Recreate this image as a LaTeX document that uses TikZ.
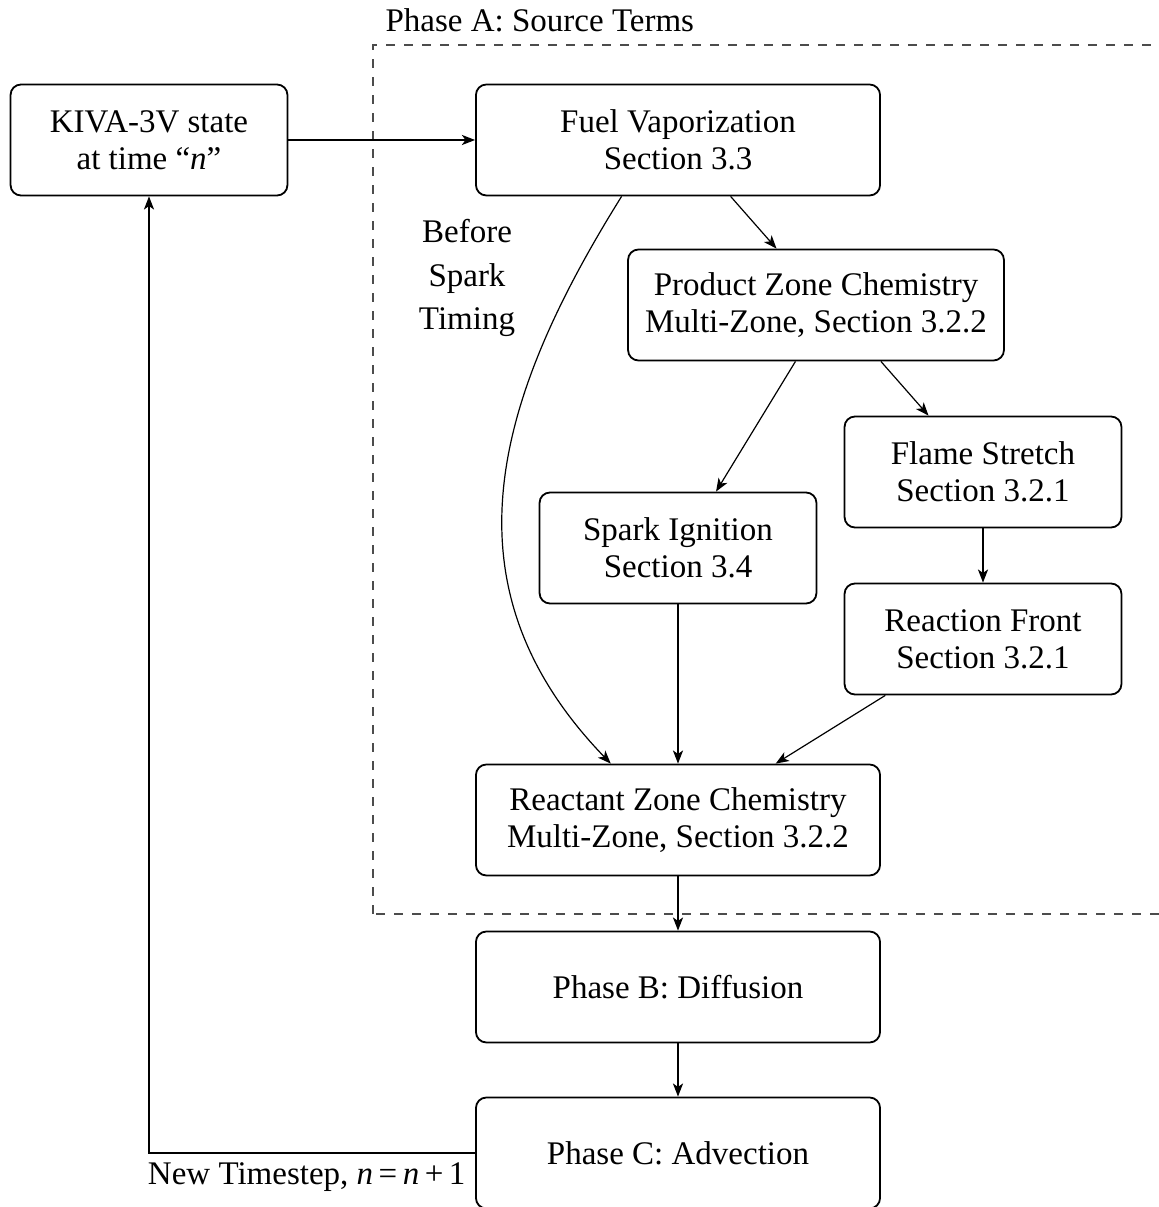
\documentclass[tikz,border=0pt]{standalone}
\usepackage{fontspec}
\setmainfont{Liberation Serif}
\usetikzlibrary{arrows.meta,positioning}
\tikzset{
    >={Stealth[length=4.4pt,width=3.4pt,inset=1.2pt]},
    rndbox/.style={draw,rounded corners=3.5pt,semithick,align=center,minimum height=37pt,inner sep=2pt,font=\fontsize{11pt}{12.3pt}\selectfont},
    rndnar/.style={rndbox,minimum width=92.3pt},
    rndmid/.style={rndbox,minimum width=125.3pt},
    rndwid/.style={rndbox,minimum width=134.7pt},
    phasebox/.style={draw=black!70,dashed},
    plain/.style={align=center,inner sep=3pt,font=\fontsize{11pt}{12.3pt}\selectfont}
}

\begin{document}
\begin{tikzpicture}[x=0.3333pt,y=0.3333pt]
        \useasboundingbox (0,0) rectangle (1159,1207);

        % Phase A frame
        \draw[phasebox] (373,293) rectangle (1220,1162);
        \node[plain,anchor=south west] (phasea) at (376,1165) {Phase A: Source Terms};

        % Boxes
        \node[rndnar] (kiva) at (149,1067) {KIVA-3V state\\at time ``\textit{n}''};
        \node[rndwid] (fuel) at (678,1067) {Fuel Vaporization\\Section 3.3};
        \node[rndmid] (prodzone) at (816,902) {Product Zone Chemistry\\Multi-Zone, Section 3.2.2};
        \node[rndnar] (flame) at (983,735) {Flame Stretch\\Section 3.2.1};
        \node[rndnar] (spark) at (678,659) {Spark Ignition\\Section 3.4};
        \node[rndnar] (front) at (983,568) {Reaction Front\\Section 3.2.1};
        \node[rndwid] (reactzone) at (678,387) {Reactant Zone Chemistry\\Multi-Zone, Section 3.2.2};
        \node[rndwid] (diffusion) at (678,220) {Phase B: Diffusion};
        \node[rndwid] (advection) at (678,54) {Phase C: Advection};
        \node[plain,font=\fontsize{11pt}{14.5pt}\selectfont] (beforespark) at (467,929) {Before\\Spark\\Timing};

        % Connectors
        \draw[->] (kiva) -- (fuel);
        \draw[->] (fuel.-47) -- (prodzone.125);
        \draw[->] (prodzone.-110) -- (spark.56);
        \draw[->] (prodzone.-41) -- (flame.134);
        \draw[->] (flame) -- (front);
        \draw[->] (spark) -- (reactzone);
        \draw[->] (front.210) -- (reactzone.30);
        \draw[->] (fuel.-135) to[out=238,in=134,looseness=1.1] (reactzone.140);
        \draw[->] (reactzone) -- (diffusion);
        \draw[->] (diffusion) -- (advection);
        \draw[->] (advection.west) node[plain,anchor=north east] (newstep) {New Timestep, \textit{n}\,=\,\textit{n}\,+\,1} -| (kiva.south);
    \end{tikzpicture}
\end{document}
